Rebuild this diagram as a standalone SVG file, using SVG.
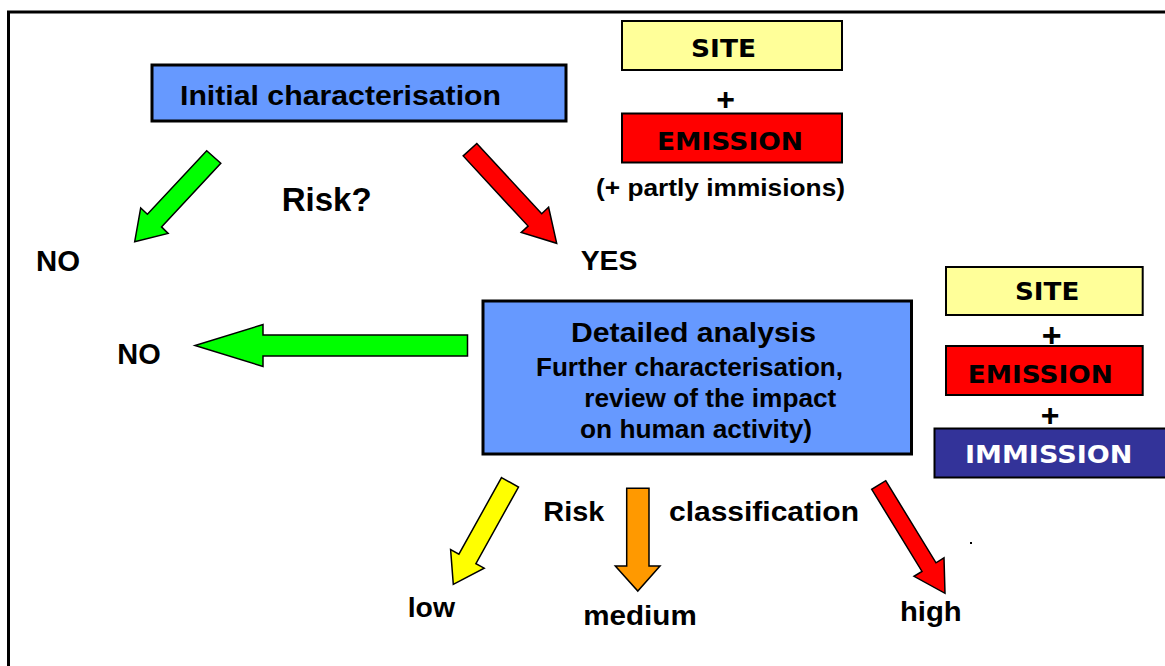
<svg xmlns="http://www.w3.org/2000/svg" width="1165" height="666" viewBox="0 0 1165 666">
<style>
.t{font-family:"Liberation Sans",Arial,sans-serif;font-weight:bold;fill:#000}
.c{font-family:"DejaVu Sans","Liberation Sans",sans-serif;font-weight:bold;fill:#000}
.box{stroke:#000;stroke-width:3}
.sbox{stroke:#000;stroke-width:2}
.arr{stroke:#000;stroke-width:1.5;stroke-linejoin:miter}
</style>
<rect width="1165" height="666" fill="#fff"/>
<path d="M8.5,667 V12 H1166" fill="none" stroke="#000" stroke-width="3"/>

<g id="initial">
<rect class="box" x="152" y="65" width="414" height="56" fill="#6699FF"/>
<text class="t" x="180" y="105" font-size="28" textLength="321" lengthAdjust="spacingAndGlyphs">Initial characterisation</text>
</g>

<g id="top-inputs">
<rect class="sbox" x="622" y="21" width="220" height="49" fill="#FFFF99"/>
<text class="c" x="691" y="57.3" font-size="24" textLength="65" lengthAdjust="spacingAndGlyphs">SITE</text>
<text class="t" x="725.7" y="110.4" font-size="32" text-anchor="middle">+</text>
<rect class="sbox" x="622" y="113.5" width="220" height="49" fill="#FF0000"/>
<text class="c" x="657" y="150" font-size="24" textLength="146" lengthAdjust="spacingAndGlyphs">EMISSION</text>
<text class="t" x="596" y="195.5" font-size="24" textLength="249" lengthAdjust="spacingAndGlyphs">(+ partly immisions)</text>
</g>

<g id="risk-label">
<text class="t" x="281.7" y="210.7" font-size="33" textLength="90" lengthAdjust="spacingAndGlyphs">Risk?</text>
</g>

<g id="no1"><text class="t" x="36" y="270.7" font-size="29" textLength="44" lengthAdjust="spacingAndGlyphs">NO</text></g>
<g id="yes"><text class="t" x="580.7" y="270" font-size="27" textLength="56.7" lengthAdjust="spacingAndGlyphs">YES</text></g>
<g id="no2"><text class="t" x="117.3" y="364" font-size="29" textLength="43.4" lengthAdjust="spacingAndGlyphs">NO</text></g>

<g id="detailed">
<rect class="box" x="483" y="301" width="428.5" height="153" fill="#6699FF"/>
<text class="t" x="571" y="342.3" font-size="28" textLength="245" lengthAdjust="spacingAndGlyphs">Detailed analysis</text>
<text class="t" x="536" y="376" font-size="25" textLength="307" lengthAdjust="spacingAndGlyphs">Further characterisation,</text>
<text class="t" x="584.3" y="406.5" font-size="25" textLength="252" lengthAdjust="spacingAndGlyphs">review of the impact</text>
<text class="t" x="580" y="437.7" font-size="25" textLength="232" lengthAdjust="spacingAndGlyphs">on human activity)</text>
</g>

<g id="right-inputs">
<rect class="sbox" x="946" y="267" width="196.7" height="48" fill="#FFFF99"/>
<text class="c" x="1015" y="300" font-size="24" textLength="64.3" lengthAdjust="spacingAndGlyphs">SITE</text>
<text class="t" x="1051.7" y="347.3" font-size="34" text-anchor="middle">+</text>
<rect class="sbox" x="946" y="346" width="196.7" height="49" fill="#FF0000"/>
<text class="c" x="967.7" y="383.3" font-size="24" textLength="145" lengthAdjust="spacingAndGlyphs">EMISSION</text>
<text class="t" x="1050" y="425.5" font-size="32" text-anchor="middle">+</text>
<rect class="sbox" x="934.5" y="428.5" width="235" height="49" fill="#333399"/>
<text class="c" x="965" y="462.7" font-size="24" textLength="167.3" lengthAdjust="spacingAndGlyphs" style="fill:#fff">IMMISSION</text>
</g>

<g id="classification-label">
<text class="t" x="543.3" y="520.7" font-size="28" textLength="61" lengthAdjust="spacingAndGlyphs">Risk</text>
<text class="t" x="669" y="520.7" font-size="28" textLength="190" lengthAdjust="spacingAndGlyphs">classification</text>
</g>

<g id="low"><text class="t" x="407.7" y="617.3" font-size="27" textLength="47.3" lengthAdjust="spacingAndGlyphs">low</text></g>
<g id="medium"><text class="t" x="583.3" y="625" font-size="27" textLength="113.4" lengthAdjust="spacingAndGlyphs">medium</text></g>
<g id="high"><text class="t" x="900" y="620.5" font-size="27" textLength="61.7" lengthAdjust="spacingAndGlyphs">high</text></g>

<g id="connectors">
<polygon class="arr" fill="#00FF00" points="206.7,150.7 220.8,163.3 161.5,226.9 168.1,233.4 134.7,241.7 140.7,207.9 147.4,214.3"/>
<polygon class="arr" fill="#FF0000" points="476.8,143.5 541.7,213.7 548.6,207.3 556.7,243.3 521.2,232.5 528.1,226.1 463.2,155.9"/>
<polygon class="arr" fill="#00FF00" points="467.5,335 263,335 263,324.5 195,345.5 263,366.5 263,356 467.5,356"/>
<polygon class="arr" fill="#FFFF00" points="501.5,477.6 518.5,487 475.9,563.6 484.2,568.2 453.3,584.3 450.6,549.6 458.9,554.2"/>
<polygon class="arr" fill="#FF9900" points="626.7,488.3 649,488.3 649,566 660,566 637.8,591 615.3,566 626.7,566"/>
<polygon class="arr" fill="#FF0000" points="885.7,480.7 936,562.8 944,557.9 945,593.3 914,576.3 922,571.4 871.7,489.3"/>
</g>
<rect x="970" y="542" width="2" height="2" fill="#000"/>
</svg>
